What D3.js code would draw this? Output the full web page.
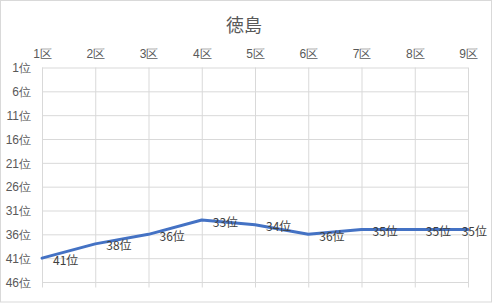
<!DOCTYPE html>
<html>
<head>
<meta charset="utf-8">
<script src="https://cdn.jsdelivr.net/npm/d3@7"></script>
<style>
  html, body { margin: 0; padding: 0; background: #fff; }
  svg { display: block; font-family: "Noto Sans CJK JP", "Noto Sans", sans-serif; }
</style>
</head>
<body>
<svg id="chart" width="495" height="304"></svg>
<script>
// 区間ごとの順位（徳島）
const title = "徳島";
const sections = ["1区", "2区", "3区", "4区", "5区", "6区", "7区", "8区", "9区"];
const ranks = [41, 38, 36, 33, 34, 36, 35, 35, 35];
const rankTicks = [1, 6, 11, 16, 21, 26, 31, 36, 41, 46];

const W = 495, H = 304;
const plot = { left: 42, right: 468, top: 67.5, bottom: 282 };

const svg = d3.select("#chart");

// chart frame
svg.append("rect")
  .attr("x", 0.5).attr("y", 0.5)
  .attr("width", W - 4).attr("height", H - 2.5)
  .attr("fill", "#fff").attr("stroke", "#d9d9d9");

const x = d3.scalePoint().domain(sections).range([plot.left, plot.right]);
const y = d3.scaleLinear().domain([1, 46]).range([plot.top, plot.bottom]);

// title
svg.append("text")
  .attr("x", 244).attr("y", 24)
  .attr("text-anchor", "middle").attr("dominant-baseline", "central")
  .attr("font-size", 18).attr("fill", "#595959")
  .text(title);

// horizontal gridlines + rank labels
const yAxis = d3.axisLeft(y)
  .tickValues(rankTicks)
  .tickSize(-(plot.right - plot.left))
  .tickPadding(11)
  .tickFormat(d => d + "位");
const gy = svg.append("g")
  .attr("transform", `translate(${plot.left},0)`)
  .call(yAxis);
gy.select(".domain").remove();
gy.selectAll(".tick line").attr("stroke", "#d9d9d9");
gy.selectAll(".tick text").attr("fill", "#595959").attr("font-size", 12)
  .attr("dy", "0.35em");

// vertical gridlines (extend below the plot as tick marks) + section labels on top
const xAxis = d3.axisTop(x)
  .tickSize(-(plot.bottom + 5.5 - plot.top))
  .tickPadding(10);
const gx = svg.append("g")
  .attr("transform", `translate(0,${plot.top})`)
  .call(xAxis);
gx.select(".domain").remove();
gx.selectAll(".tick line").attr("stroke", "#d9d9d9");
gx.selectAll(".tick text").attr("fill", "#595959").attr("font-size", 12);

// rank line
const line = d3.line()
  .x((d, i) => x(sections[i]))
  .y(d => y(d));
svg.append("path")
  .datum(ranks)
  .attr("d", line)
  .attr("fill", "none")
  .attr("stroke", "#4472c4")
  .attr("stroke-width", 3)
  .attr("stroke-linejoin", "round")
  .attr("stroke-linecap", "round");

// data labels to the right of each point, kept inside the frame
const labels = svg.append("g").selectAll("text")
  .data(ranks)
  .join("text")
  .attr("y", d => y(d) + 1)
  .attr("dominant-baseline", "central")
  .attr("font-size", 12)
  .attr("fill", "#404040")
  .text(d => d + "位");
labels.each(function(d, i) {
  const w = this.getComputedTextLength();
  const px = x(sections[i]) + 11;
  d3.select(this).attr("x", Math.min(px, 487 - w));
});
</script>
</body>
</html>
